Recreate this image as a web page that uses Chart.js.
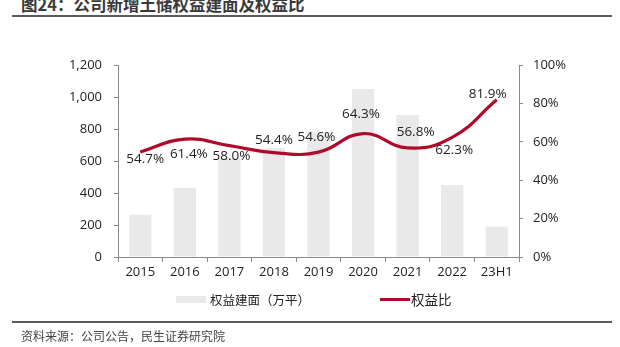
<!DOCTYPE html>
<html>
<head>
<meta charset="utf-8">
<script src="https://cdn.jsdelivr.net/npm/chart.js@4/dist/chart.umd.min.js"></script>
<style>
  html, body { margin: 0; padding: 0; background: #fff; }
  body { width: 620px; height: 347px; position: relative; overflow: hidden;
         font-family: "Noto Sans CJK SC", "Open Sans", sans-serif; }
  #c { position: absolute; left: 0; top: 0; }
  .title { position: absolute; left: 21px; top: -8px; font-size: 16.5px; font-weight: bold; color: #3a3a3a; white-space: nowrap; }
  .rule { position: absolute; left: 12px; width: 600px; background: #5a5a5a; }
  .legend { position: absolute; top: 290px; height: 18px; display: flex; align-items: center; font-size: 12.5px; color: #222; white-space: nowrap; }
  .src { position: absolute; left: 21px; top: 327px; font-size: 12px; color: #444; white-space: nowrap; }
</style>
</head>
<body>
<div class="title">图24：公司新增土储权益建面及权益比</div>
<div class="rule" style="top:15px;height:2px;"></div>
<canvas id="c" width="620" height="347"></canvas>
<div class="legend" style="left:176px;"><span style="display:inline-block;width:30px;height:7px;background:#E9E9E9;margin-right:4px;"></span><span id="lg0"></span></div>
<div class="legend" style="left:380px;"><span style="display:inline-block;width:30px;height:3px;background:#B00A2A;margin-right:1px;"></span><span id="lg1" style="font-size:13.5px;"></span></div>
<div class="rule" style="top:321px;height:2px;"></div>
<div class="src">资料来源：公司公告，民生证券研究院</div>
<script>
const categories = ['2015', '2016', '2017', '2018', '2019', '2020', '2021', '2022', '23H1'];
const areaValues = [264, 433, 620, 680, 783, 1050, 888, 450, 190];
const ratioValues = [54.7, 61.4, 58.0, 54.4, 54.6, 64.3, 56.8, 62.3, 81.9];
const leftTicks = [0, 200, 400, 600, 800, 1000, 1200];
const rightTicks = [0, 20, 40, 60, 80, 100];
const seriesNames = ['权益建面（万平）', '权益比'];

document.getElementById('lg0').textContent = seriesNames[0];
document.getElementById('lg1').textContent = seriesNames[1];

const FONT = '"Open Sans", "Noto Sans CJK SC", sans-serif';

const labelPlugin = {
  id: 'ratioLabels',
  afterDatasetsDraw(chart, args, opts) {
    const meta = chart.getDatasetMeta(0);
    const ctx = chart.ctx;
    ctx.save();
    ctx.font = '13.5px ' + FONT;
    ctx.fillStyle = '#222';
    ctx.textAlign = 'center';
    ctx.textBaseline = 'middle';
    meta.data.forEach((pt, i) => {
      const v = chart.data.datasets[0].data[i];
      ctx.fillText(v.toFixed(1) + '%', pt.x + opts.dx[i], pt.y + opts.dy[i]);
    });
    ctx.restore();
  }
};

new Chart(document.getElementById('c'), {
  type: 'bar',
  data: {
    labels: categories,
    datasets: [
      {
        type: 'line',
        label: seriesNames[1],
        data: ratioValues,
        yAxisID: 'y1',
        borderColor: '#B00A2A',
        borderWidth: 3.2,
        tension: 0.45,
        pointRadius: 0,
        fill: false,
        order: 0
      },
      {
        type: 'bar',
        label: seriesNames[0],
        data: areaValues,
        yAxisID: 'y',
        backgroundColor: '#E9E9E9',
        categoryPercentage: 1,
        barPercentage: 0.5,
        order: 1
      }
    ]
  },
  options: {
    responsive: false,
    animation: false,
    layout: { padding: { top: 65, left: 0, right: 0, bottom: 0 } },
    plugins: {
      legend: { display: false },
      tooltip: { enabled: false },
      ratioLabels: {
        dx: [5, 4, 2, 0, -2, -2, 8, 2, -9],
        dy: [7, 15, 11, -12, -15, -19, -16, 13, -6]
      }
    },
    scales: {
      x: {
        offset: true,
        grid: { display: true, drawOnChartArea: false, drawTicks: true, tickLength: 5, color: '#8a8a8a', offset: true },
        border: { display: true, color: '#8a8a8a' },
        ticks: { font: { family: FONT, size: 13 }, color: '#222', padding: 2, maxRotation: 0 },
        afterFit(s) { s.height = 90; }
      },
      y: {
        position: 'left',
        min: 0, max: 1200,
        afterBuildTicks(s) { s.ticks = leftTicks.map(v => ({ value: v })); },
        grid: { display: true, drawOnChartArea: false, drawTicks: true, tickLength: 4, color: '#8a8a8a' },
        border: { display: true, color: '#8a8a8a' },
        ticks: { font: { family: FONT, size: 13 }, color: '#222', padding: 12,
                 callback: v => v.toLocaleString('en-US') },
        afterFit(s) { s.width = 118; }
      },
      y1: {
        position: 'right',
        min: 0, max: 100,
        afterBuildTicks(s) { s.ticks = rightTicks.map(v => ({ value: v })); },
        grid: { display: true, drawOnChartArea: false, drawTicks: true, tickLength: 4, color: '#8a8a8a' },
        border: { display: true, color: '#8a8a8a' },
        ticks: { font: { family: FONT, size: 13 }, color: '#222', padding: 10,
                 callback: v => v + '%' },
        afterFit(s) { s.width = 101; }
      }
    }
  },
  plugins: [labelPlugin]
});
</script>
</body>
</html>
